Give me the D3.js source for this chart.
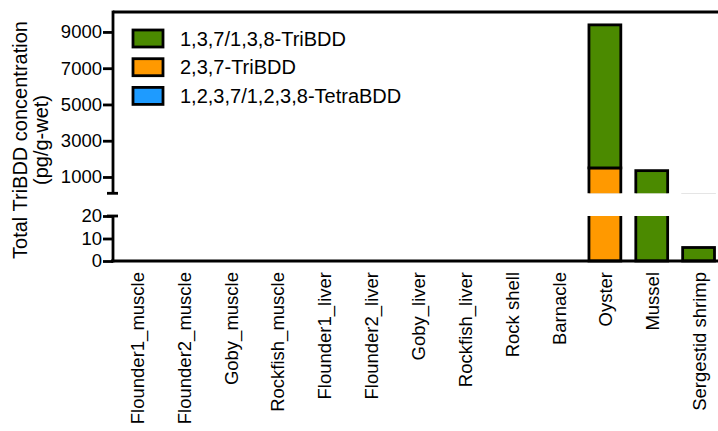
<!DOCTYPE html>
<html>
<head>
<meta charset="utf-8">
<script src="https://cdn.jsdelivr.net/npm/d3@7"></script>
<style>
  body { margin: 0; background: #fff; }
  svg { display: block; font-family: "Liberation Sans", Arial, sans-serif; }
</style>
</head>
<body>
<svg width="718" height="431"></svg>
<script>
var categories = ["Flounder1_muscle", "Flounder2_muscle", "Goby_muscle", "Rockfish_muscle",
  "Flounder1_liver", "Flounder2_liver", "Goby_liver", "Rockfish_liver",
  "Rock shell", "Barnacle", "Oyster", "Mussel", "Sergestid shrimp"];

// values in pg/g-wet
var tri237 =   [0, 0, 0, 0, 0, 0, 0, 0, 0, 0, 1500, 0, 0];
var tri137 =   [0, 0, 0, 0, 0, 0, 0, 0, 0, 0, 7890, 1350, 6];
var tetra =    [0, 0, 0, 0, 0, 0, 0, 0, 0, 0, 0, 0, 0];

var seriesNames = ["1,3,7/1,3,8-TriBDD", "2,3,7-TriBDD", "1,2,3,7/1,2,3,8-TetraBDD"];
var seriesColors = ["#4b8a00", "#ff9900", "#1e9bff"];

var upperTicks = [1000, 3000, 5000, 7000, 9000];
var lowerTicks = [0, 10, 20];

var svg = d3.select("svg"),
    axisX = 113;

var rows = categories.map(function(c, i) {
  return { cat: c, t237: tri237[i], t137: tri137[i], tetra: tetra[i] };
});

var stack = d3.stack().keys(["t237", "t137", "tetra"]);
var stacked = stack(rows);
var colorByKey = { t237: seriesColors[1], t137: seriesColors[0], tetra: seriesColors[2] };

var x = d3.scaleBand()
    .domain(categories)
    .range([axisX, 722])
    .paddingInner(0.32)
    .paddingOuter(0.16);

var yTop = d3.scaleLinear().domain([100, 10100]).range([193.3, 12]);
var yLow = d3.scaleLinear().domain([0, 20]).range([261, 216]);

var defs = svg.append("defs");
defs.append("clipPath").attr("id", "clipTop")
  .append("rect").attr("x", axisX).attr("y", 10).attr("width", 620).attr("height", 193.3 - 10);
defs.append("clipPath").attr("id", "clipLow")
  .append("rect").attr("x", axisX).attr("y", 216).attr("width", 620).attr("height", 261 - 216 + 2);

function drawBars(scale, clip) {
  var g = svg.append("g").attr("clip-path", "url(#" + clip + ")");
  g.selectAll(".serie")
    .data(stacked)
    .enter().append("g")
      .attr("fill", function(d) { return colorByKey[d.key]; })
    .selectAll("rect")
    .data(function(d) { return d.filter(function(p) { return p[1] > p[0]; }); })
    .enter().append("rect")
      .attr("x", function(d) { return x(d.data.cat); })
      .attr("width", x.bandwidth())
      .attr("y", function(d) { return scale(d[1]); })
      .attr("height", function(d) { return scale(d[0]) - scale(d[1]); })
      .attr("stroke", "#000")
      .attr("stroke-width", 2.8);
}
drawBars(yTop, "clipTop");
drawBars(yLow, "clipLow");

// frame top line and x axis line
svg.append("line").attr("x1", axisX).attr("x2", 718).attr("y1", 12).attr("y2", 12)
  .attr("stroke", "#000").attr("stroke-width", 2.8);
svg.append("line").attr("x1", axisX - 2).attr("x2", 718).attr("y1", 261).attr("y2", 261)
  .attr("stroke", "#000").attr("stroke-width", 2.8);

// y axes
function yAxis(scale, ticks, y0, y1, capY) {
  var g = svg.append("g").attr("transform", "translate(" + axisX + ",0)")
    .call(d3.axisLeft(scale).tickValues(ticks).tickFormat(d3.format("d")).tickSize(10).tickSizeOuter(0));
  g.select(".domain").remove();
  g.append("line").attr("x1", 0).attr("x2", 0).attr("y1", y0).attr("y2", y1)
    .attr("stroke", "#000").attr("stroke-width", 2.8);
  g.append("line").attr("x1", -6).attr("x2", 5).attr("y1", capY).attr("y2", capY)
    .attr("stroke", "#000").attr("stroke-width", 2.8);
  g.selectAll(".tick line").attr("stroke-width", 2.8);
  g.selectAll(".tick text").attr("font-size", 18.5).attr("fill", "#000")
    .attr("font-family", "Liberation Sans, Arial, sans-serif").attr("x", -11);
  return g;
}
yAxis(yTop, upperTicks, 10.6, 193.3, 193.3);
yAxis(yLow, lowerTicks, 216, 262.4, 216);

// x labels
svg.append("g").selectAll("text")
  .data(categories)
  .enter().append("text")
    .attr("transform", function(d) {
      return "translate(" + (x(d) + x.bandwidth() / 2 + 1) + ",272) rotate(-90)";
    })
    .attr("text-anchor", "end")
    .attr("dy", "0.35em")
    .attr("font-size", 18.5)
    .text(function(d) { return d; });

// y title
var title = svg.append("text")
  .attr("transform", "translate(27,140) rotate(-90)")
  .attr("text-anchor", "middle")
  .attr("font-size", 20);
title.append("tspan").attr("x", 0).attr("dy", 0).text("Total TriBDD concentration");
title.append("tspan").attr("x", 0).attr("dy", 21).text("(pg/g-wet)");

// legend
var legend = svg.append("g").selectAll("g")
  .data(seriesNames)
  .enter().append("g")
    .attr("transform", function(d, i) { return "translate(133," + (30 + i * 28.7) + ")"; });
legend.append("rect")
  .attr("width", 30).attr("height", 17)
  .attr("fill", function(d, i) { return seriesColors[i]; })
  .attr("stroke", "#000").attr("stroke-width", 2.8);
legend.append("text")
  .attr("x", 47).attr("y", 8.5).attr("dy", "0.35em")
  .attr("font-size", 20)
  .text(function(d) { return d; });
</script>
</body>
</html>
